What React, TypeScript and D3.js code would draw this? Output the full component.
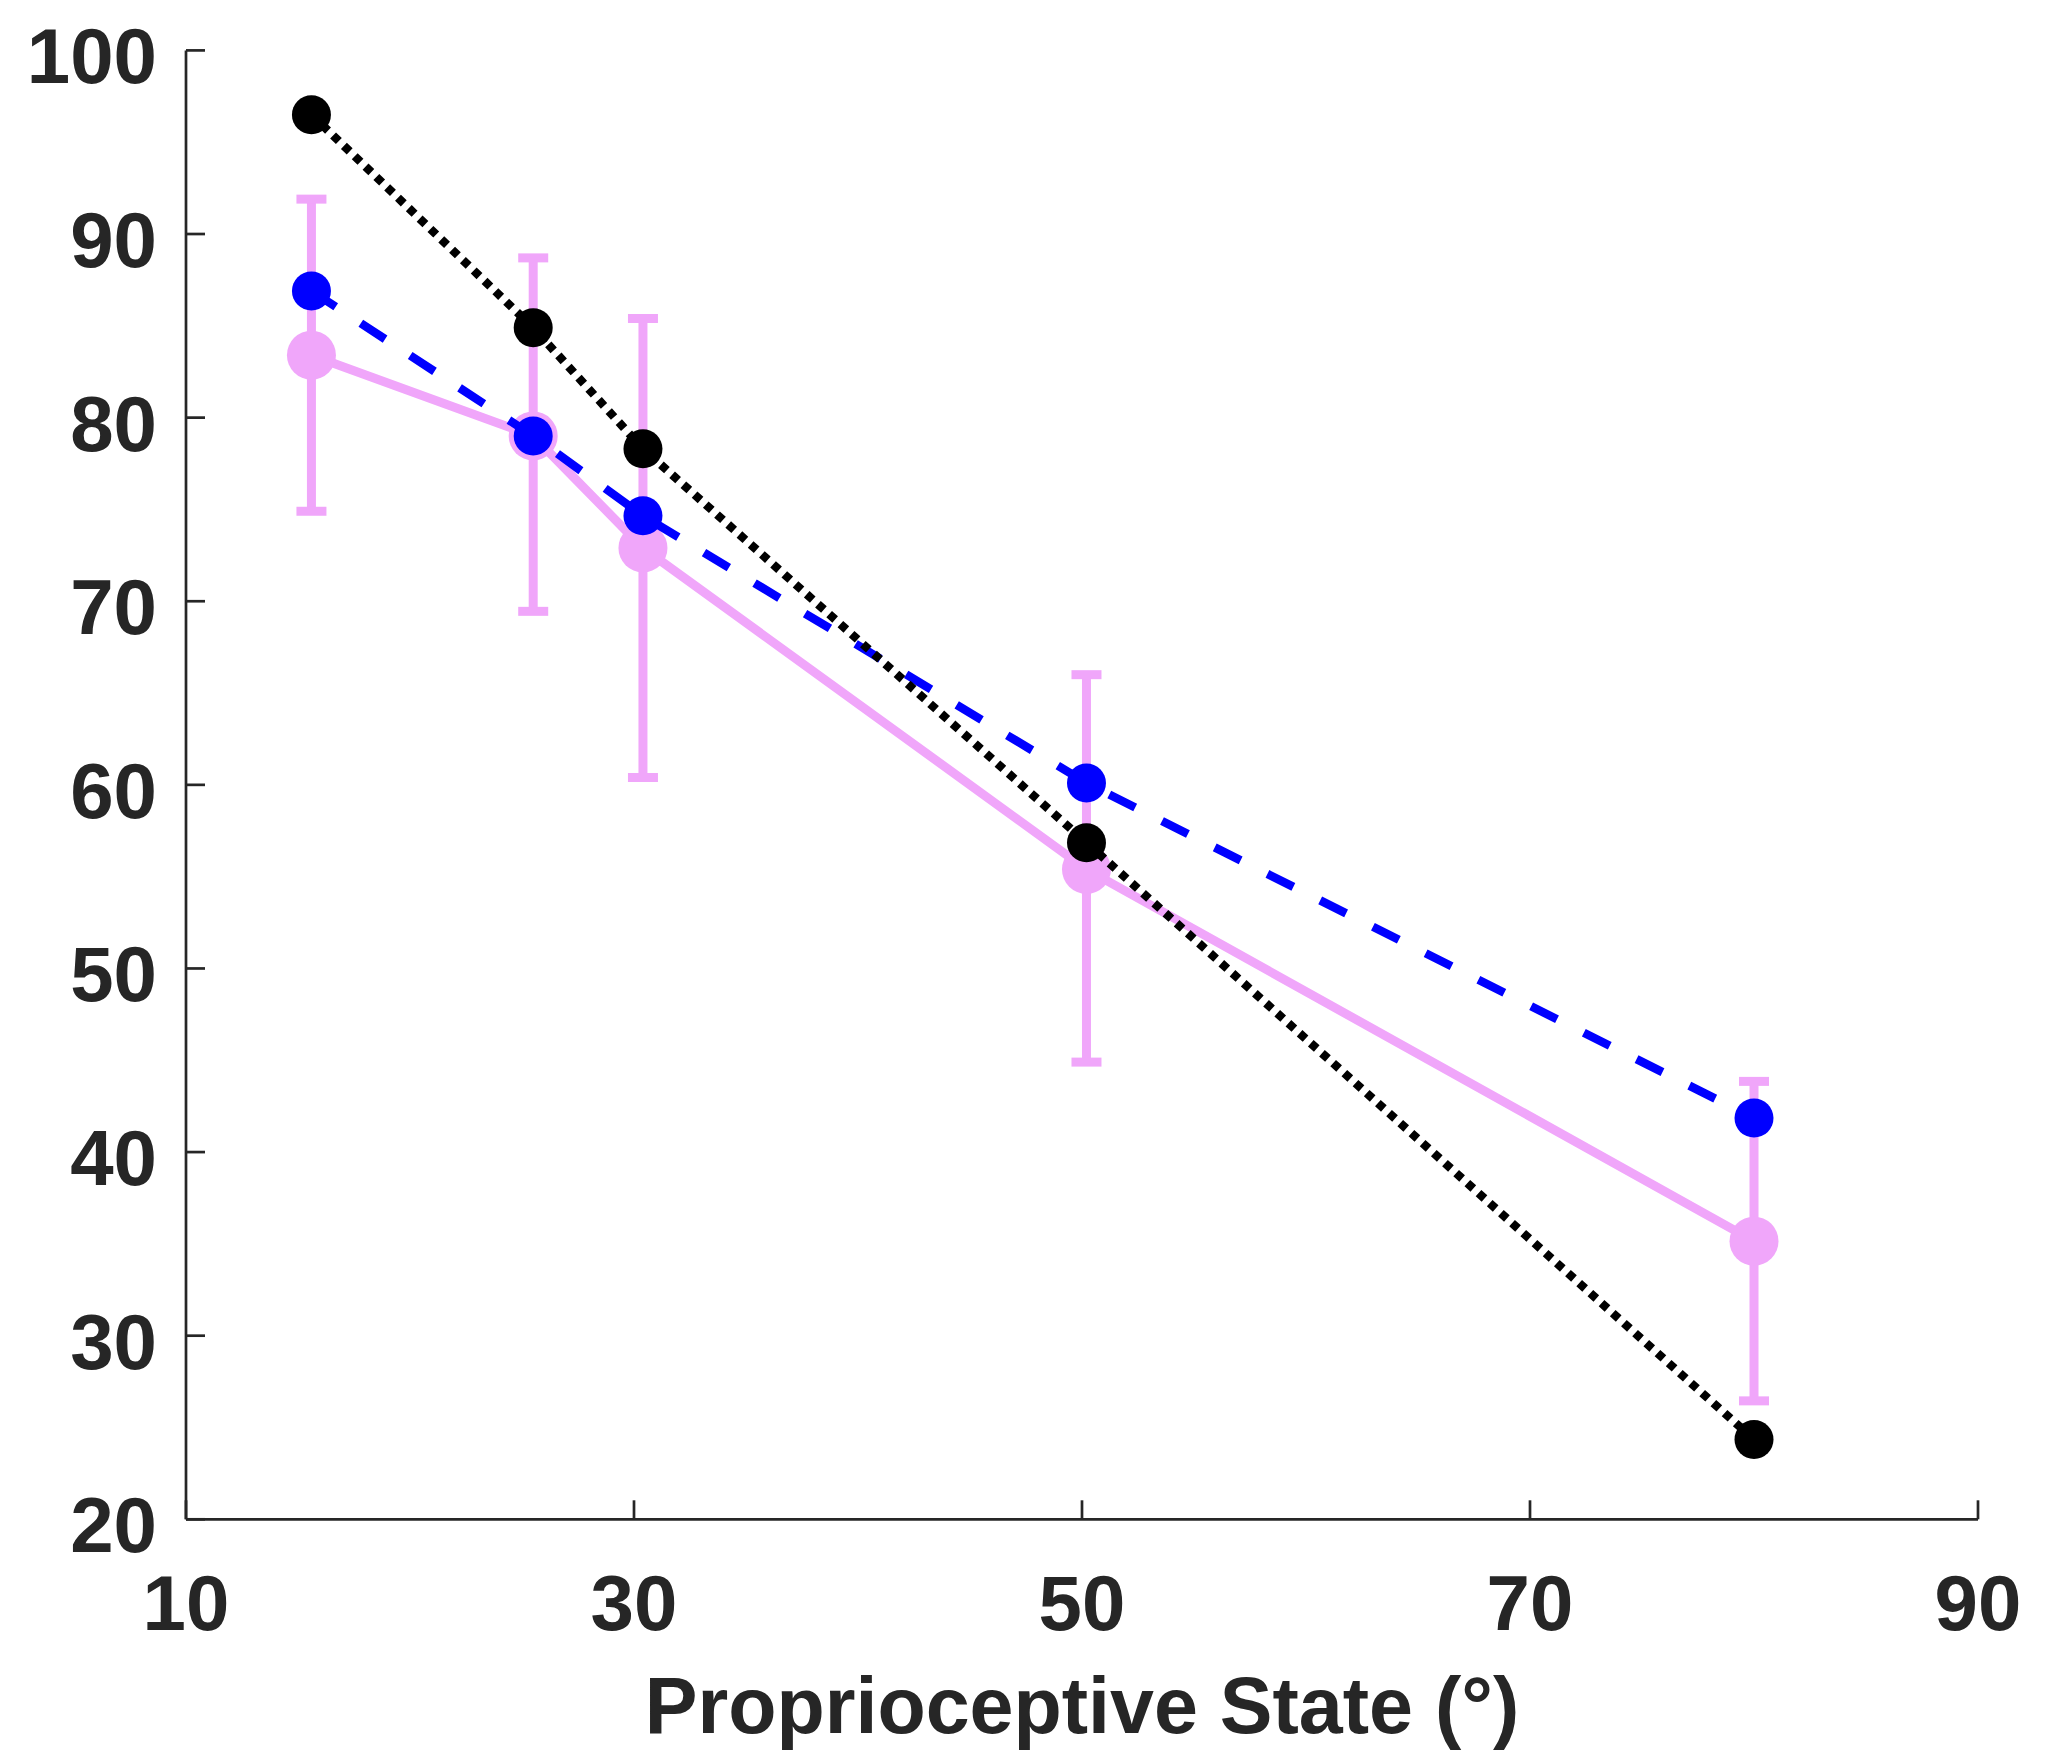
import React from "react";
import * as d3 from "d3";

const xValues = [15.6, 25.5, 30.4, 50.2, 80];
const modelBlack = [96.5, 84.9, 78.3, 56.85, 24.35];
const modelBlue = [86.9, 79.0, 74.65, 60.1, 41.85];
const meanPink = [83.4, 79.0, 72.9, 55.4, 35.15];
const pinkUpper = [91.9, 88.7, 85.4, 66.0, 43.85];
const pinkLower = [74.9, 69.45, 60.4, 44.9, 26.45];
const xTicks = [10, 30, 50, 70, 90];
const yTicks = [20, 30, 40, 50, 60, 70, 80, 90, 100];
const xLabel = "Proprioceptive State (°)";

const W = 2049;
const H = 1757;
const left = 186;
const right = 1978;
const top = 50.4;
const bottom = 1519.3;

const PINK = "#F0A6FA";
const BLUE = "#0000FF";
const BLACK = "#000000";
const AXIS = "#262626";
const FONT = "'Liberation Sans', Arial, Helvetica, sans-serif";

export default function App() {
  const x = d3.scaleLinear().domain([10, 90]).range([left, right]);
  const y = d3.scaleLinear().domain([20, 100]).range([bottom, top]);
  const line = d3
    .line<number>()
    .x((_, i) => x(xValues[i]))
    .y((d) => y(d));

  const capHalf = 15;

  return (
    <svg
      width={W}
      height={H}
      viewBox={`0 0 ${W} ${H}`}
      style={{ position: "absolute", left: 0, top: 0, background: "#fff" }}
    >
      <rect x={0} y={0} width={W} height={H} fill="#fff" />

      {/* axes */}
      <g stroke={AXIS} strokeWidth={2.7} fill="none">
        <line x1={left} y1={bottom} x2={right} y2={bottom} />
        <line x1={left} y1={bottom} x2={left} y2={top} />
        {yTicks.map((t) => (
          <line key={"yt" + t} x1={left} x2={left + 19} y1={y(t)} y2={y(t)} />
        ))}
        {xTicks.map((t) => (
          <line key={"xt" + t} x1={x(t)} x2={x(t)} y1={bottom} y2={bottom - 19} />
        ))}
      </g>

      {/* tick labels */}
      <g fontFamily={FONT} fontWeight="bold" fontSize={78} fill={AXIS}>
        {yTicks.map((t) => (
          <text key={"yl" + t} x={157} y={y(t) + 33} textAnchor="end">
            {t}
          </text>
        ))}
        {xTicks.map((t) => (
          <text key={"xl" + t} x={x(t)} y={bottom + 111} textAnchor="middle">
            {t}
          </text>
        ))}
      </g>
      <text
        x={(left + right) / 2}
        y={1733}
        textAnchor="middle"
        fontFamily={FONT}
        fontWeight="bold"
        fontSize={79}
        fill={AXIS}
      >
        {xLabel}
      </text>

      {/* pink series with error bars */}
      <g stroke={PINK} strokeWidth={9} fill="none">
        {xValues.map((xv, i) => (
          <g key={"eb" + i}>
            <line x1={x(xv)} x2={x(xv)} y1={y(pinkUpper[i])} y2={y(pinkLower[i])} />
            <line x1={x(xv) - capHalf} x2={x(xv) + capHalf} y1={y(pinkUpper[i])} y2={y(pinkUpper[i])} />
            <line x1={x(xv) - capHalf} x2={x(xv) + capHalf} y1={y(pinkLower[i])} y2={y(pinkLower[i])} />
          </g>
        ))}
        <path d={line(meanPink) || ""} strokeLinejoin="round" />
      </g>
      {meanPink.map((v, i) => (
        <circle key={"pm" + i} cx={x(xValues[i])} cy={y(v)} r={24.5} fill={PINK} />
      ))}

      {/* blue dashed series */}
      <path
        d={line(modelBlue) || ""}
        fill="none"
        stroke={BLUE}
        strokeWidth={8.5}
        strokeDasharray="29,30"
      />
      {modelBlue.map((v, i) => (
        <circle key={"bm" + i} cx={x(xValues[i])} cy={y(v)} r={19.5} fill={BLUE} />
      ))}

      {/* black dotted series */}
      <path
        d={line(modelBlack) || ""}
        fill="none"
        stroke={BLACK}
        strokeWidth={8.5}
        strokeDasharray="8,7"
      />
      {modelBlack.map((v, i) => (
        <circle key={"km" + i} cx={x(xValues[i])} cy={y(v)} r={19.5} fill={BLACK} />
      ))}
    </svg>
  );
}
